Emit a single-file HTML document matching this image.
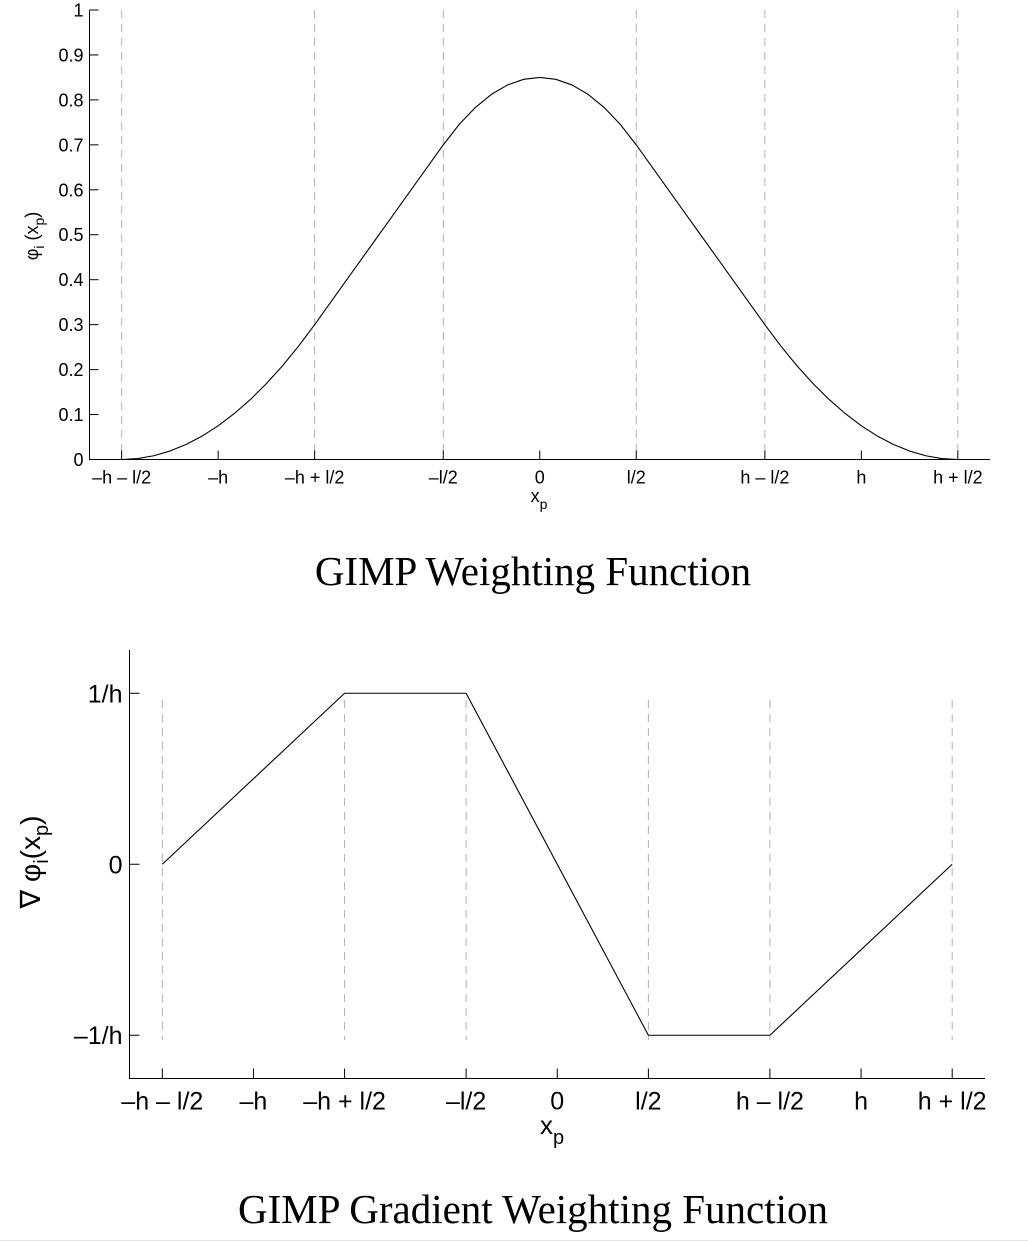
<!DOCTYPE html>
<html><head><meta charset="utf-8"><style>
html,body{margin:0;padding:0;background:#fff;}
svg{display:block;font-family:"Liberation Sans",sans-serif;}
</style></head><body>
<svg id="s" width="1028" height="1242" viewBox="0 0 1028 1242">
<line x1="0" y1="1240.5" x2="1028" y2="1240.5" stroke="#e4e4e4"/>
</svg>
<script>
// ---------- data ----------
const tickVals = [-1.3,-1,-0.7,-0.3,0,0.3,0.7,1,1.3];
const tickLabels = ['\u2013h \u2013 l/2','\u2013h','\u2013h + l/2','\u2013l/2','0','l/2','h \u2013 l/2','h','h + l/2'];
const dashVals = [-1.3,-0.7,-0.3,0.3,0.7,1.3];
const yTicksTop = [0,0.1,0.2,0.3,0.4,0.5,0.6,0.7,0.8,0.9,1];
const yTickLabelsTop = ['0','0.1','0.2','0.3','0.4','0.5','0.6','0.7','0.8','0.9','1'];
const phiX = [-1.3,-1.25,-1.2,-1.15,-1.1,-1.05,-1.0,-0.95,-0.9,-0.85,-0.8,-0.75,-0.7,-0.65,-0.6,-0.55,-0.5,-0.45,-0.4,-0.35,-0.3,-0.25,-0.2,-0.15,-0.1,-0.05,0,0.05,0.1,0.15,0.2,0.25,0.3,0.35,0.4,0.45,0.5,0.55,0.6,0.65,0.7,0.75,0.8,0.85,0.9,0.95,1.0,1.05,1.1,1.15,1.2,1.25,1.3];
const phiY = [0,0.0021,0.0083,0.0188,0.0333,0.0521,0.075,0.1021,0.1333,0.1688,0.2083,0.2521,0.3,0.35,0.4,0.45,0.5,0.55,0.6,0.65,0.7,0.7458,0.7833,0.8125,0.8333,0.8458,0.85,0.8458,0.8333,0.8125,0.7833,0.7458,0.7,0.65,0.6,0.55,0.5,0.45,0.4,0.35,0.3,0.2521,0.2083,0.1688,0.1333,0.1021,0.075,0.0521,0.0333,0.0188,0.0083,0.0021,0];
const gradX = [-1.3,-0.7,-0.3,0.3,0.7,1.3];
const gradY = [0,1,1,-1,-1,0];
const yTicksBot = [-1,0,1];
const yTickLabelsBot = ['\u20131/h','0','1/h'];

const NS='http://www.w3.org/2000/svg';
const svg=document.getElementById('s');
function mk(tag,attrs,parent){const e=document.createElementNS(NS,tag);for(const k in attrs)e.setAttribute(k,attrs[k]);(parent||svg).appendChild(e);return e;}

function chart(cfg){
  const g=mk('g',{});
  
  
  const sx=v=>cfg.L+(v-cfg.xmin)/(cfg.xmax-cfg.xmin)*(cfg.R-cfg.L);
  const sy=v=>cfg.B-(v-cfg.ymin)/(cfg.ymax-cfg.ymin)*(cfg.B-cfg.T);
  dashVals.forEach(v=>{
    const l=mk('line',{x1:sx(v),x2:sx(v),y1:cfg.dashTop,y2:cfg.dashBot,stroke:'#b0b0b0','stroke-dasharray':'8,6','stroke-width':1},g);
    
    
  });
  const ax=mk('path',{d:`M${cfg.L},${cfg.T}V${cfg.B}H${cfg.R}`,fill:'none',stroke:'#000','stroke-width':1},g);
  
  
  tickVals.forEach((v,i)=>{
    mk('line',{x1:sx(v),x2:sx(v),y1:cfg.B,y2:cfg.B-cfg.tl,stroke:'#000'},g);
    const t=mk('text',{x:sx(v),y:cfg.B+cfg.xlo,'font-size':cfg.fs,'text-anchor':'middle'},g);
    t.textContent=tickLabels[i];
    
    
  });
  cfg.yt.forEach((v,i)=>{
    mk('line',{x1:cfg.L,x2:cfg.L+cfg.tl,y1:sy(v),y2:sy(v),stroke:'#000'},g);
    const t=mk('text',{x:cfg.L-cfg.ylo,y:sy(v)+cfg.fs*0.36,'font-size':cfg.fs,'text-anchor':'end'},g);
    t.textContent=cfg.ytl[i];
    
    
  });
  const d=cfg.xs.map((x,i)=>(i?'L':'M')+sx(x).toFixed(2)+','+sy(cfg.ys[i]).toFixed(2)).join('');
  const p=mk('path',{d:d,fill:'none',stroke:'#000','stroke-width':1.1,'stroke-linejoin':'round'},g);
  
  
  return g;
}

chart({name:'weighting-function-chart',L:89.5,R:990,T:10,B:459.5,xmin:-1.4,xmax:1.4,ymin:0,ymax:1,
  dashTop:10,dashBot:459,tl:9,fs:18,xlo:24,ylo:6,yt:yTicksTop,ytl:yTickLabelsTop,xs:phiX,ys:phiY,seriesName:'phi-curve'});
chart({name:'gradient-function-chart',L:129.5,R:985,T:650,B:1078.5,xmin:-1.408,xmax:1.408,ymin:-1.253,ymax:1.253,
  dashTop:700,dashBot:1040,tl:10,fs:25,xlo:31,ylo:7,yt:yTicksBot,ytl:yTickLabelsBot,xs:gradX,ys:gradY,seriesName:'gradient-line'});

svg.insertAdjacentHTML('beforeend',`
<text x="539" y="502" font-size="18" text-anchor="middle">x<tspan dy="7" font-size="14">p</tspan></text>
<text transform="translate(38,236) rotate(-90)" font-size="18" text-anchor="middle">&#966;<tspan dy="6" font-size="14">i</tspan><tspan dy="-6"> (x</tspan><tspan dy="6" font-size="14">p</tspan><tspan dy="-6">)</tspan></text>
<text x="533" y="585" font-family="Liberation Serif,serif" font-size="41" text-anchor="middle">GIMP Weighting Function</text>
<text x="552" y="1134" font-size="26" text-anchor="middle">x<tspan dy="10" font-size="20">p</tspan></text>
<text transform="translate(40,862) rotate(-90)" font-size="28" text-anchor="middle">&#8711; &#966;<tspan dy="8" font-size="20">i</tspan><tspan dy="-8">(x</tspan><tspan dy="8" font-size="20">p</tspan><tspan dy="-8">)</tspan></text>
<text x="533" y="1223" font-family="Liberation Serif,serif" font-size="41" text-anchor="middle">GIMP Gradient Weighting Function</text>
`);
</script>
</body></html>
